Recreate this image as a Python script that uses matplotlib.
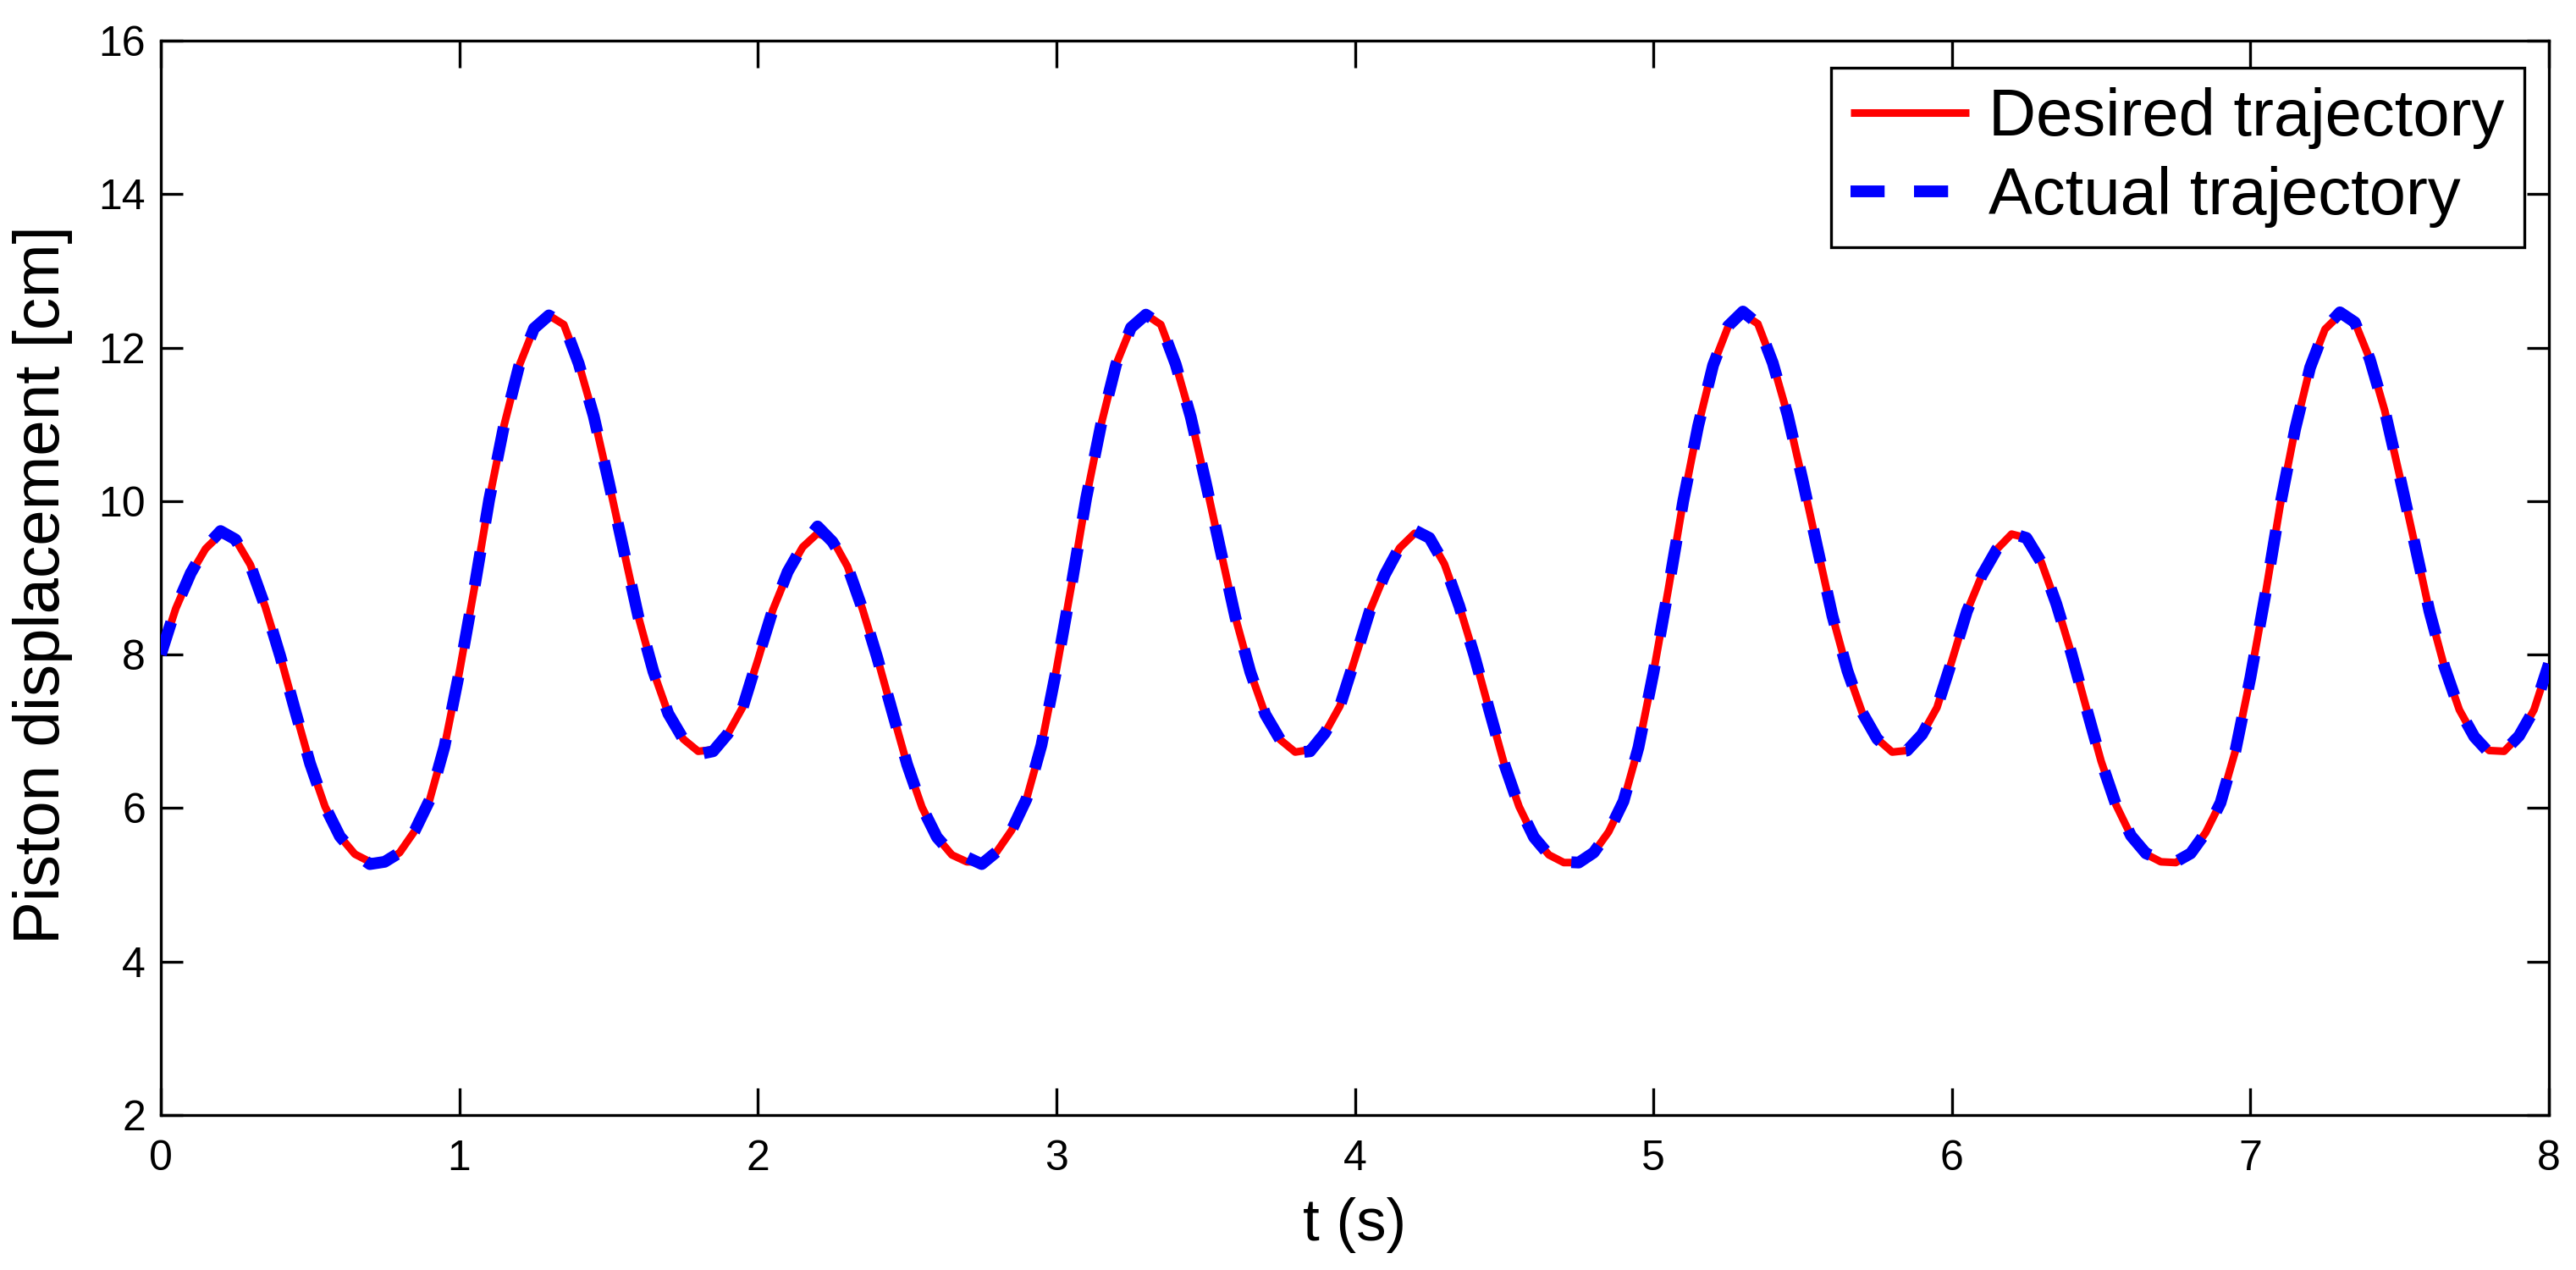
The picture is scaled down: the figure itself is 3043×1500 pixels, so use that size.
import numpy as np
import matplotlib
matplotlib.use("Agg")
import matplotlib.pyplot as plt

# ---- data (0.05 s sampling) ----
time_s = np.linspace(0.0, 8.0, 161)

desired_cm = [
    8.00, 8.60, 9.05, 9.38, 9.57, 9.50, 9.17, 8.62, 7.98, 7.27,
    6.58, 6.02, 5.63, 5.40, 5.30, 5.29, 5.42, 5.70, 6.10, 6.80,
    7.77, 8.86, 10.02, 10.99, 11.76, 12.25, 12.42, 12.30, 11.79, 11.11,
    10.26, 9.37, 8.49, 7.78, 7.23, 6.90, 6.74, 6.76, 6.97, 7.32,
    7.93,
    8.58, 9.06, 9.40, 9.58, 9.50, 9.15, 8.60, 7.96, 7.26, 6.57,
    6.01, 5.62, 5.39, 5.30, 5.30, 5.43, 5.71, 6.12, 6.82, 7.80,
    8.89, 10.04, 11.00, 11.78, 12.26, 12.43, 12.30, 11.78, 11.10, 10.25,
    9.36, 8.48, 7.77, 7.22, 6.89, 6.73, 6.76, 6.98, 7.33, 7.94,
    8.57, 9.04, 9.39, 9.58, 9.52, 9.18, 8.63, 7.99, 7.28, 6.58,
    6.02, 5.62, 5.39, 5.29, 5.29, 5.42, 5.69, 6.09, 6.79, 7.76,
    8.85, 10.00, 10.98, 11.77, 12.27, 12.44, 12.31, 11.80, 11.12, 10.27,
    9.38, 8.50, 7.79, 7.24, 6.90, 6.73, 6.75, 6.96, 7.31, 7.92,
    8.56, 9.03, 9.37, 9.57, 9.52, 9.20, 8.66, 8.02, 7.31, 6.61,
    6.04, 5.64, 5.40, 5.30, 5.29, 5.41, 5.68, 6.07, 6.75, 7.70,
    8.78, 9.95, 10.94, 11.74, 12.24, 12.43, 12.33, 11.85, 11.18, 10.33,
    9.45, 8.56, 7.84, 7.28, 6.93, 6.75, 6.74, 6.94, 7.28, 7.88,
]

actual_cm = [
    8.00, 8.61, 9.06, 9.40, 9.61, 9.50, 9.16, 8.62, 7.98, 7.27,
    6.58, 6.02, 5.63, 5.41, 5.27, 5.30, 5.42, 5.70, 6.10, 6.80,
    7.77, 8.86, 10.02, 10.99, 11.76, 12.25, 12.42, 12.31, 11.79, 11.11,
    10.26, 9.37, 8.49, 7.78, 7.23, 6.90, 6.70, 6.74, 6.97, 7.32,
    7.95,
    8.58, 9.08, 9.42, 9.67, 9.47, 9.15, 8.60, 7.96, 7.26, 6.57,
    6.01, 5.62, 5.40, 5.36, 5.27, 5.43, 5.71, 6.12, 6.82, 7.80,
    8.89, 10.04, 11.00, 11.78, 12.26, 12.43, 12.30, 11.78, 11.10, 10.25,
    9.36, 8.48, 7.77, 7.22, 6.89, 6.72, 6.74, 6.98, 7.33, 7.94,
    8.57, 9.04, 9.40, 9.62, 9.52, 9.18, 8.63, 7.99, 7.28, 6.58,
    6.02, 5.62, 5.39, 5.30, 5.29, 5.42, 5.69, 6.09, 6.79, 7.76,
    8.85, 10.00, 10.98, 11.77, 12.28, 12.47, 12.31, 11.80, 11.12, 10.27,
    9.38, 8.50, 7.79, 7.24, 6.90, 6.73, 6.75, 6.96, 7.31, 7.92,
    8.56, 9.03, 9.37, 9.58, 9.52, 9.20, 8.66, 8.02, 7.31, 6.61,
    6.04, 5.64, 5.41, 5.33, 5.30, 5.41, 5.68, 6.07, 6.75, 7.70,
    8.78, 9.95, 10.94, 11.74, 12.25, 12.46, 12.33, 11.85, 11.18, 10.33,
    9.45, 8.56, 7.84, 7.28, 6.93, 6.72, 6.74, 6.94, 7.28, 7.88,
]

x_ticks = [0, 1, 2, 3, 4, 5, 6, 7, 8]
y_ticks = [2, 4, 6, 8, 10, 12, 14, 16]
series_labels = ["Desired trajectory", "Actual trajectory"]

# ---- style ----
REG = ["Liberation Sans", "DejaVu Sans"]
plt.rcParams["font.family"] = REG

W, H = 3043, 1500
fig = plt.figure(figsize=(W / 100, H / 100), dpi=100)
ax_l, ax_r, ax_t, ax_b = 190, 3011, 48, 1317
ax = fig.add_axes([ax_l / W, 1 - ax_b / H, (ax_r - ax_l) / W, (ax_b - ax_t) / H])

ax.plot(time_s, desired_cm, color="#ff0000", lw=6.5, label=series_labels[0],
        solid_capstyle="butt", zorder=2)
ax.plot(time_s, actual_cm, color="#0000ff", lw=10, linestyle=(0, (2.9, 2.5)),
        dash_capstyle="butt", label=series_labels[1], zorder=3)

ax.set_xlim(0, 8)
ax.set_ylim(2, 16)
ax.set_xticks(x_ticks)
ax.set_yticks(y_ticks)
ax.set_xticklabels([str(v) for v in x_ticks])
ax.set_yticklabels([str(v) for v in y_ticks])

for sp in ax.spines.values():
    sp.set_linewidth(2.4)
    sp.set_color("black")

ax.tick_params(axis="x", direction="in", length=23, width=2.4, top=True,
               bottom=True, labelsize=36, pad=21, colors="black")
ax.tick_params(axis="y", direction="in", length=19, width=2.4, left=True,
               right=True, labelsize=36, pad=13, colors="black")

ax.set_xlabel("t (s)", fontsize=51)
ax.xaxis.set_label_coords(0.5, (ax_b - 1414) / (ax_b - ax_t))
ax.xaxis.label.set_verticalalignment("top")

ax.set_ylabel("Piston displacement [cm]", fontsize=55)
ax.yaxis.set_label_coords((86 - ax_l) / (ax_r - ax_l), (ax_b - 691) / (ax_b - ax_t))

leg = ax.legend(loc="upper right",
                bbox_to_anchor=(2982 / W, 1 - 80 / H),
                bbox_transform=fig.transFigure,
                borderaxespad=0, fontsize=56, frameon=True, fancybox=False,
                framealpha=1, edgecolor="black", handlelength=1.8,
                handletextpad=0.3, borderpad=0.3, labelspacing=0.25)
leg.get_frame().set_linewidth(2.4)

fig.savefig("out.png", dpi=100, facecolor="white")
